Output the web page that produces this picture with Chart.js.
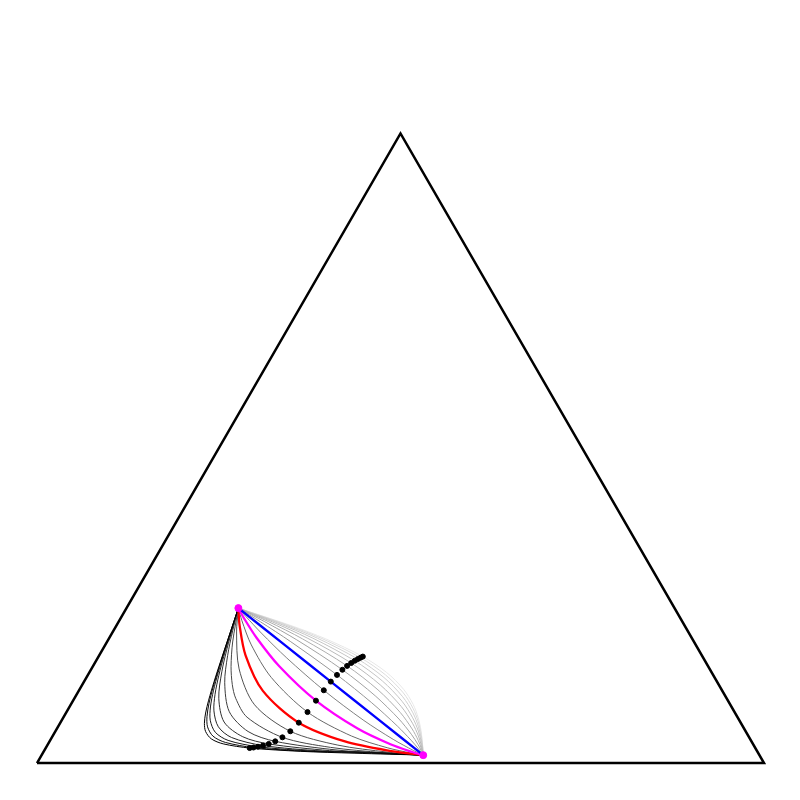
<!DOCTYPE html>
<html>
<head>
<script src="https://cdn.jsdelivr.net/npm/chart.js@4.4.0/dist/chart.umd.min.js"></script>
<style>
  body { margin: 0; background: #fff; }
  #wrap { width: 800px; height: 800px; }
</style>
</head>
<body>
<div id="wrap"><canvas id="myChart"></canvas></div>
<script>
// compositions are [a, b, c]: a = bottom-left corner, b = bottom-right, c = top
var alphas = [-2, -1.75, -1.5, -1.25, -1, -0.75, -0.5, -0.25, 0, 0.25, 0.5, 0.75, 1,
              1.25, 1.5, 1.75, 2, 2.25, 2.5, 2.75, 3];

var pointA = [0.6, 0.154, 0.246];
var pointB = [0.4625, 0.525, 0.0125];

var corners = [[1, 0, 0], [0, 1, 0], [0, 0, 1], [1, 0, 0]];

// inner points of each path from A to B (one list per alpha)
var curves = [
  [[0.5990,0.1544,0.1437],[0.5980,0.1547,0.1116],[0.5959,0.1554,0.0833],[0.5930,0.1565,0.0646],[0.5881,0.1584,0.0500],[0.5805,0.1616,0.0391],[0.5662,0.1685,0.0293],[0.5466,0.1808,0.0228],[0.5180,0.2090,0.0177],[0.4879,0.2746,0.0144],[0.4722,0.3656,0.0132]],
  [[0.5990,0.1544,0.1697],[0.5980,0.1548,0.1358],[0.5961,0.1556,0.1021],[0.5932,0.1568,0.0784],[0.5884,0.1589,0.0595],[0.5811,0.1624,0.0453],[0.5671,0.1700,0.0328],[0.5477,0.1836,0.0247],[0.5191,0.2148,0.0185],[0.4886,0.2864,0.0147],[0.4724,0.3806,0.0146]],
  [[0.5990,0.1544,0.1937],[0.5981,0.1549,0.1625],[0.5962,0.1558,0.1261],[0.5934,0.1571,0.0973],[0.5888,0.1594,0.0731],[0.5816,0.1633,0.0543],[0.5679,0.1718,0.0379],[0.5488,0.1869,0.0274],[0.5202,0.2216,0.0197],[0.4892,0.2993,0.0151],[0.4727,0.3955,0.0148]],
  [[0.5991,0.1545,0.2123],[0.5982,0.1550,0.1875],[0.5963,0.1560,0.1531],[0.5936,0.1575,0.1215],[0.5892,0.1601,0.0918],[0.5822,0.1644,0.0674],[0.5687,0.1739,0.0453],[0.5498,0.1909,0.0313],[0.5213,0.2293,0.0214],[0.4899,0.3131,0.0156],[0.4730,0.4098,0.0150]],
  [[0.5982,0.1551,0.2073],[0.5956,0.1568,0.1677],[0.5912,0.1596,0.1272],[0.5827,0.1657,0.0858],[0.5663,0.1793,0.0519],[0.5435,0.2046,0.0326],[0.5224,0.2381,0.0238],[0.4906,0.3277,0.0164],[0.4733,0.4231,0.0138]],
  [[0.5966,0.1565,0.2002],[0.5915,0.1604,0.1545],[0.5832,0.1673,0.1096],[0.5672,0.1827,0.0665],[0.5445,0.2110,0.0398],[0.5235,0.2481,0.0275],[0.4913,0.3426,0.0175],[0.4737,0.4353,0.0142]],
  [[0.5917,0.1613,0.1792],[0.5837,0.1692,0.1363],[0.5757,0.1776,0.1071],[0.5680,0.1867,0.0864],[0.5529,0.2070,0.0596],[0.5246,0.2592,0.0333],[0.4983,0.3339,0.0212],[0.4764,0.4327,0.0152]],
  [[0.5920,0.1624,0.1983],[0.5764,0.1810,0.1331],[0.5539,0.2142,0.0782],[0.5257,0.2713,0.0423],[0.4992,0.3488,0.0248],[0.4768,0.4435,0.0162]],
  [[0.5922,0.1637,0.2120],[0.5770,0.1851,0.1573],[0.5549,0.2225,0.1006],[0.5268,0.2843,0.0555],[0.5001,0.3634,0.0306],[0.4772,0.4532,0.0179]],
  [[0.5925,0.1654,0.2212],[0.5776,0.1899,0.1772],[0.5559,0.2318,0.1239],[0.5279,0.2980,0.0727],[0.5010,0.3774,0.0393],[0.4815,0.4466,0.0231],[0.4688,0.4978,0.0155]],
  [[0.5927,0.1673,0.2273],[0.5782,0.1956,0.1922],[0.5569,0.2421,0.1450],[0.5290,0.3119,0.0924],[0.5019,0.3905,0.0516],[0.4820,0.4553,0.0287],[0.4690,0.5012,0.0172]],
  [[0.5929,0.1697,0.2315],[0.5788,0.2021,0.2031],[0.5578,0.2534,0.1623],[0.5301,0.3259,0.1118],[0.5028,0.4027,0.0665],[0.4826,0.4628,0.0369],[0.4692,0.5041,0.0199]],
  [[0.5656,0.2468,0.1876],[0.5313,0.3395,0.1293],[0.4969,0.4323,0.0709]],
  [[0.5866,0.1973,0.2266],[0.5664,0.2582,0.1967],[0.5324,0.3526,0.1440],[0.5047,0.4236,0.0981],[0.4837,0.4750,0.0597],[0.4724,0.5018,0.0366],[0.4667,0.5151,0.0236]],
  [[0.5870,0.2044,0.2295],[0.5672,0.2702,0.2036],[0.5335,0.3649,0.1562],[0.5057,0.4325,0.1122],[0.4843,0.4799,0.0724],[0.4727,0.5042,0.0459],[0.4669,0.5161,0.0293],[0.4640,0.5220,0.0189]],
  [[0.5874,0.2124,0.2317],[0.5680,0.2823,0.2089],[0.5346,0.3763,0.1661],[0.5067,0.4403,0.1245],[0.4850,0.4841,0.0847],[0.4731,0.5062,0.0560],[0.4670,0.5170,0.0364],[0.4640,0.5223,0.0226],[0.4629,0.5242,0.0160]],
  [[0.5877,0.2211,0.2334],[0.5688,0.2944,0.2131],[0.5357,0.3869,0.1742],[0.5077,0.4473,0.1351],[0.4856,0.4877,0.0960],[0.4734,0.5079,0.0662],[0.4672,0.5178,0.0444],[0.4641,0.5226,0.0276],[0.4630,0.5243,0.0184],[0.4627,0.5248,0.0147]],
  [[0.5880,0.2305,0.2348],[0.5695,0.3063,0.2165],[0.5368,0.3965,0.1809],[0.5087,0.4534,0.1442],[0.4863,0.4908,0.1062],[0.4738,0.5094,0.0760],[0.4674,0.5184,0.0527],[0.4641,0.5228,0.0334],[0.4630,0.5243,0.0217],[0.4626,0.5248,0.0163]],
  [[0.5884,0.2404,0.2359],[0.5702,0.3177,0.2193],[0.5379,0.4052,0.1865],[0.5097,0.4588,0.1521],[0.4870,0.4936,0.1153],[0.4741,0.5107,0.0852],[0.4675,0.5189,0.0610],[0.4642,0.5230,0.0399],[0.4630,0.5244,0.0275],[0.4626,0.5248,0.0186]],
  [[0.5887,0.2506,0.2368],[0.5709,0.3286,0.2216],[0.5389,0.4131,0.1912],[0.5108,0.4636,0.1588],[0.4877,0.4960,0.1235],[0.4745,0.5118,0.0937],[0.4677,0.5194,0.0690],[0.4642,0.5231,0.0466],[0.4630,0.5244,0.0307],[0.4627,0.5248,0.0218],[0.4625,0.5249,0.0163]],
  [[0.5890,0.2609,0.2375],[0.5716,0.3389,0.2235],[0.5400,0.4202,0.1953],[0.5118,0.4678,0.1647],[0.4884,0.4981,0.1307],[0.4749,0.5128,0.1014],[0.4679,0.5198,0.0765],[0.4643,0.5233,0.0532],[0.4633,0.5245,0.0360],[0.4627,0.5248,0.0256],[0.4625,0.5249,0.0186]]
];

// the black dot on each path
var midpoints = [
  [0.5180,0.2090,0.0177],[0.5191,0.2148,0.0185],[0.5202,0.2216,0.0197],[0.5213,0.2293,0.0214],
  [0.5224,0.2381,0.0238],[0.5235,0.2481,0.0275],[0.5246,0.2592,0.0333],[0.5257,0.2713,0.0423],
  [0.5268,0.2843,0.0555],[0.5279,0.2980,0.0727],[0.5290,0.3119,0.0924],[0.5301,0.3259,0.1118],
  [0.5313,0.3395,0.1293],[0.5324,0.3526,0.1440],[0.5335,0.3649,0.1562],[0.5346,0.3763,0.1661],
  [0.5357,0.3869,0.1742],[0.5368,0.3965,0.1809],[0.5379,0.4052,0.1865],[0.5389,0.4131,0.1912],
  [0.5400,0.4202,0.1953]
];

// ternary -> cartesian
function toXY(p) {
    var s = p[0] + p[1] + p[2];
    return { x: (p[1] + p[2] / 2) / s, y: (p[2] / s) * Math.sqrt(3) / 2 };
}

var datasets = [];

datasets.push({
    data: [pointA, pointB].map(toXY),
    backgroundColor: '#ff00ff',
    borderColor: '#ff00ff',
    pointRadius: 3.5,
    showLine: false,
    order: 0,
    clip: false
});

datasets.push({
    data: midpoints.map(toXY),
    backgroundColor: '#000',
    borderColor: '#000',
    pointRadius: 2.5,
    showLine: false,
    order: 1
});

for (var i = 0; i < alphas.length; i++) {
    var col, w = 1, ord = 10 + i;
    if (alphas[i] === 0) { col = '#ff0000'; w = 2.3; ord = 4; }
    else if (alphas[i] === 0.5) { col = '#ff00ff'; w = 2.3; ord = 3; }
    else if (alphas[i] === 1) { col = '#0000ff'; w = 2.3; ord = 2; }
    else {
        var g = Math.round(i / (alphas.length - 1) * 232);
        col = 'rgb(' + g + ',' + g + ',' + g + ')';
    }
    datasets.push({
        data: [pointA].concat(curves[i], [pointB]).map(toXY),
        borderColor: col,
        borderWidth: w,
        pointRadius: 0,
        showLine: true,
        tension: 0.3,
        order: ord
    });
}

datasets.push({
    data: corners.map(toXY),
    borderColor: '#000',
    borderWidth: 2.5,
    pointRadius: 0,
    showLine: true,
    tension: 0,
    order: 100,
    clip: false
});

var ctx = document.getElementById('myChart');
var myChart = new Chart(ctx, {
    type: 'scatter',
    data: { datasets: datasets },
    options: {
        responsive: true,
        maintainAspectRatio: false,
        animation: false,
        layout: { padding: { left: 37, right: 36, top: 133, bottom: 37 } },
        scales: {
            x: { type: 'linear', min: 0, max: 1, display: false },
            y: { type: 'linear', min: 0, max: 0.8666, display: false }
        },
        plugins: {
            legend: { display: false },
            tooltip: { enabled: false }
        },
        elements: { point: { hoverRadius: 0 } }
    }
});
</script>
</body>
</html>
